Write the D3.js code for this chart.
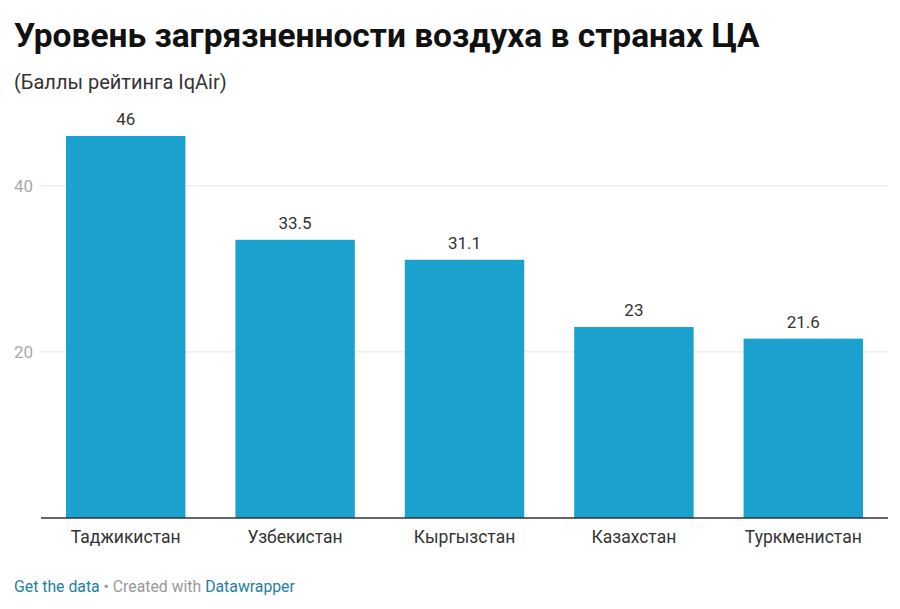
<!DOCTYPE html>
<html>
<head>
<meta charset="utf-8">
<script src="https://cdn.jsdelivr.net/npm/d3@7"></script>
<style>
  body { margin: 0; background: #fff; font-family: Roboto, "Noto Sans", sans-serif; }
</style>
</head>
<body>
<svg id="chart" width="900" height="609"></svg>
<script>
var countries = ["Таджикистан", "Узбекистан", "Кыргызстан", "Казахстан", "Туркменистан"];
var scores = [46, 33.5, 31.1, 23, 21.6];
var yTicks = [20, 40];
var valueLabels = ["46", "33.5", "31.1", "23", "21.6"];

var svg = d3.select("#chart");
var plotLeft = 41, plotRight = 888, plotTop = 136, plotBottom = 518;

var x = d3.scaleBand()
  .domain(countries)
  .range([plotLeft, plotRight])
  .paddingInner(0.295)
  .paddingOuter(0.1475);

var y = d3.scaleLinear()
  .domain([0, 46])
  .range([plotBottom, plotTop]);

// title + subtitle
svg.append("text")
  .attr("x", 14).attr("y", 47)
  .attr("font-size", 33.5).attr("font-weight", "bold").attr("fill", "#111")
  .text("Уровень загрязненности воздуха в странах ЦА");

svg.append("text")
  .attr("x", 14).attr("y", 89)
  .attr("font-size", 20).attr("fill", "#333")
  .text("(Баллы рейтинга IqAir)");

// gridlines
var grid = svg.append("g");
yTicks.forEach(function (t) {
  grid.append("line")
    .attr("x1", plotLeft).attr("x2", plotRight)
    .attr("y1", y(t)).attr("y2", y(t))
    .attr("stroke", "#e6e6e6").attr("stroke-width", 1);
  grid.append("text")
    .attr("x", 33).attr("y", y(t) + 6)
    .attr("text-anchor", "end")
    .attr("font-size", 17).attr("fill", "#aaa")
    .text(t);
});

// bars
svg.selectAll("rect.bar")
  .data(scores)
  .enter().append("rect")
  .attr("class", "bar")
  .attr("x", function (d, i) { return x(countries[i]); })
  .attr("width", x.bandwidth())
  .attr("y", function (d) { return y(d); })
  .attr("height", function (d) { return y(0) - y(d); })
  .attr("fill", "#1ba1cd");

svg.selectAll("text.val")
  .data(scores)
  .enter().append("text")
  .attr("class", "val")
  .attr("x", function (d, i) { return x(countries[i]) + x.bandwidth() / 2; })
  .attr("y", function (d) { return y(d) - 11; })
  .attr("text-anchor", "middle")
  .attr("font-size", 17).attr("fill", "#333")
  .text(function (d, i) { return valueLabels[i]; });

// baseline
svg.append("line")
  .attr("x1", plotLeft).attr("x2", plotRight)
  .attr("y1", y(0)).attr("y2", y(0))
  .attr("stroke", "#333").attr("stroke-width", 1.5);

svg.selectAll("text.cat")
  .data(countries)
  .enter().append("text")
  .attr("class", "cat")
  .attr("x", function (d) { return x(d) + x.bandwidth() / 2; })
  .attr("y", 543)
  .attr("text-anchor", "middle")
  .attr("font-size", 17.5).attr("fill", "#333")
  .text(function (d) { return d; });

// footer
var foot = svg.append("text")
  .attr("x", 14).attr("y", 592)
  .attr("font-size", 15.8);
foot.append("tspan").attr("fill", "#1d81a2").text("Get the data");
foot.append("tspan").attr("fill", "#999").text(" • Created with ");
foot.append("tspan").attr("fill", "#1d81a2").text("Datawrapper");
</script>
</body>
</html>
